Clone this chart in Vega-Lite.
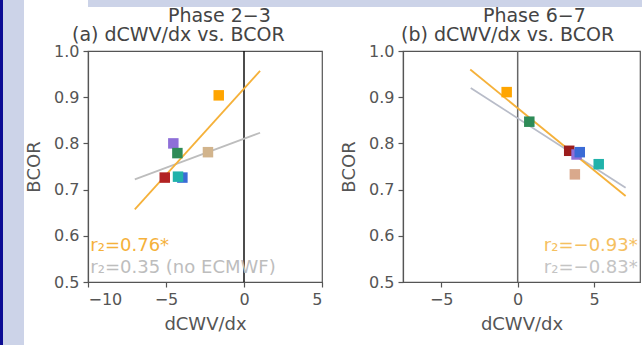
{
  "$schema": "https://vega.github.io/schema/vega-lite/v6.json",
  "background": "white",
  "padding": 0,
  "spacing": 0,
  "config": {
    "font": "DejaVu Sans",
    "view": {"stroke": "#555555", "strokeWidth": 1.2},
    "concat": {"spacing": 0},
    "axis": {
      "grid": false,
      "domainColor": "#555555",
      "tickColor": "#555555",
      "labelColor": "#555555",
      "titleColor": "#555555",
      "labelFont": "DejaVu Sans",
      "titleFont": "DejaVu Sans",
      "labelFontSize": 16,
      "titleFontSize": 18,
      "titleFontWeight": "normal",
      "tickSize": 5,
      "labelPadding": 4,
      "domainWidth": 1.2,
      "tickWidth": 1.2
    },
    "axisY": {"titlePadding": 10},
    "axisX": {"titlePadding": 8},
    "title": {
      "font": "DejaVu Sans",
      "fontSize": 19,
      "fontWeight": "normal",
      "color": "#444444",
      "anchor": "start",
      "align": "left",
      "offset": 0
    }
  },
  "datasets": {
    "pointsA": [
      {"model": "M2", "dCWVdx": -5.08, "BCOR": 0.726},
      {"model": "M3", "dCWVdx": -4.53, "BCOR": 0.800},
      {"model": "M4", "dCWVdx": -4.27, "BCOR": 0.779},
      {"model": "M5", "dCWVdx": -2.31, "BCOR": 0.781},
      {"model": "ECMWF", "dCWVdx": -1.62, "BCOR": 0.904},
      {"model": "M6", "dCWVdx": -3.95, "BCOR": 0.726},
      {"model": "M7", "dCWVdx": -4.23, "BCOR": 0.728}
    ],
    "pointsB": [
      {"model": "ECMWF", "dCWVdx": -0.72, "BCOR": 0.911},
      {"model": "M4", "dCWVdx": 0.76, "BCOR": 0.847},
      {"model": "M5", "dCWVdx": 3.74, "BCOR": 0.733},
      {"model": "M2", "dCWVdx": 3.37, "BCOR": 0.784},
      {"model": "M3", "dCWVdx": 3.85, "BCOR": 0.776},
      {"model": "M6", "dCWVdx": 4.06, "BCOR": 0.781},
      {"model": "M7", "dCWVdx": 5.30, "BCOR": 0.755}
    ],
    "fitsA": [
      {"fit": "no ECMWF", "dCWVdx": -7.0, "BCOR": 0.722},
      {"fit": "no ECMWF", "dCWVdx": 1.03, "BCOR": 0.823},
      {"fit": "all", "dCWVdx": -7.0, "BCOR": 0.657},
      {"fit": "all", "dCWVdx": 1.03, "BCOR": 0.957}
    ],
    "fitsB": [
      {"fit": "no ECMWF", "dCWVdx": -3.07, "BCOR": 0.920},
      {"fit": "no ECMWF", "dCWVdx": 7.06, "BCOR": 0.704},
      {"fit": "all", "dCWVdx": -3.1, "BCOR": 0.960},
      {"fit": "all", "dCWVdx": 7.06, "BCOR": 0.686}
    ],
    "notesA": [
      {"fit": "all", "dCWVdx": -9.85, "BCOR": 0.577, "label": "r₂=0.76*"},
      {"fit": "no ECMWF", "dCWVdx": -9.85, "BCOR": 0.530, "label": "r₂=0.35 (no ECMWF)"}
    ],
    "notesB": [
      {"fit": "all", "dCWVdx": 7.85, "BCOR": 0.577, "label": "r₂=−0.93*"},
      {"fit": "no ECMWF", "dCWVdx": 7.85, "BCOR": 0.530, "label": "r₂=−0.83*"}
    ],
    "zero": [{"dCWVdx": 0}],
    "empty": []
  },
  "hconcat": [
    {
      "width": 3, "height": 345,
      "data": {"name": "empty"},
      "mark": "point",
      "view": {"fill": "#0c0c94", "stroke": null}
    },
    {
      "width": 21, "height": 345,
      "data": {"name": "empty"},
      "mark": "point",
      "view": {"fill": "#ccd3e8", "stroke": null}
    },
    {
      "spacing": 0,
      "columns": 1,
      "align": "none",
      "concat": [
        {
          "width": 618, "height": 7,
          "data": {"name": "empty"},
          "mark": "point",
          "view": {"fill": "#ccd3e8", "stroke": null}
        },
        {
          "spacing": 15,
          "hconcat": [
            {
              "title": {"text": "Phase 2−3", "dx": 143, "dy": 1, "frame": "bounds", "offset": 0},
              "hconcat": [
                {
                  "width": 234, "height": 231,
                  "title": {"text": "(a) dCWV/dx vs. BCOR", "dx": -16, "dy": 2, "frame": "group", "offset": 0},
                  "resolve": {"scale": {"color": "independent"}},
                  "layer": [
                    {
                      "data": {"name": "zero"},
                      "mark": {"type": "rule", "color": "#111111", "strokeWidth": 1.5},
                      "encoding": {"x": {"field": "dCWVdx", "type": "quantitative"}}
                    },
                    {
                      "data": {"name": "fitsA"},
                      "mark": {"type": "line", "strokeWidth": 1.8},
                      "encoding": {
                        "x": {"field": "dCWVdx", "type": "quantitative", "scale": {"domain": [-10, 5], "nice": false}, "axis": {"values": [-10, -5, 0, 5], "title": "dCWV/dx"}},
                        "y": {"field": "BCOR", "type": "quantitative", "scale": {"domain": [0.5, 1.0], "nice": false, "zero": false}, "axis": {"values": [0.5, 0.6, 0.7, 0.8, 0.9, 1.0], "format": ".1f", "title": "BCOR"}},
                        "color": {"field": "fit", "type": "nominal", "scale": {"domain": ["all", "no ECMWF"], "range": ["#F5B13A", "#BDBDBD"]}, "legend": null},
                        "detail": {"field": "fit"}
                      }
                    },
                    {
                      "data": {"name": "pointsA"},
                      "mark": {"type": "square", "size": 110, "opacity": 1},
                      "encoding": {
                        "x": {"field": "dCWVdx", "type": "quantitative"},
                        "y": {"field": "BCOR", "type": "quantitative"},
                        "color": {"field": "model", "type": "nominal", "scale": {"domain": ["ECMWF", "M2", "M3", "M4", "M5", "M6", "M7"], "range": ["#FFA500", "#B22222", "#8E6FD8", "#2E8B57", "#D2B48C", "#3A6BD6", "#20B2AA"]}, "legend": null}
                      }
                    },
                    {
                      "data": {"name": "notesA"},
                      "mark": {"type": "text", "align": "left", "baseline": "middle", "fontSize": 18},
                      "encoding": {
                        "x": {"field": "dCWVdx", "type": "quantitative"},
                        "y": {"field": "BCOR", "type": "quantitative"},
                        "text": {"field": "label"},
                        "color": {"field": "fit", "type": "nominal", "scale": {"domain": ["all", "no ECMWF"], "range": ["#F5B13A", "#BDBDBD"]}, "legend": null}
                      }
                    }
                  ]
                }
              ]
            },
            {
              "title": {"text": "Phase 6−7", "dx": 143, "dy": 1, "frame": "bounds", "offset": 0},
              "hconcat": [
                {
                  "width": 237, "height": 231,
                  "title": {"text": "(b) dCWV/dx vs. BCOR", "dx": -2, "dy": 2, "frame": "group", "offset": 0},
                  "resolve": {"scale": {"color": "independent"}},
                  "layer": [
                    {
                      "data": {"name": "zero"},
                      "mark": {"type": "rule", "color": "#666666", "strokeWidth": 1.5},
                      "encoding": {"x": {"field": "dCWVdx", "type": "quantitative"}}
                    },
                    {
                      "data": {"name": "fitsB"},
                      "mark": {"type": "line", "strokeWidth": 1.8},
                      "encoding": {
                        "x": {"field": "dCWVdx", "type": "quantitative", "scale": {"domain": [-7.5, 8], "nice": false}, "axis": {"values": [-5, 0, 5], "title": "dCWV/dx"}},
                        "y": {"field": "BCOR", "type": "quantitative", "scale": {"domain": [0.5, 1.0], "nice": false, "zero": false}, "axis": {"values": [0.5, 0.6, 0.7, 0.8, 0.9, 1.0], "format": ".1f", "title": "BCOR"}},
                        "color": {"field": "fit", "type": "nominal", "scale": {"domain": ["all", "no ECMWF"], "range": ["#F5B13A", "#B8BCC8"]}, "legend": null},
                        "detail": {"field": "fit"}
                      }
                    },
                    {
                      "data": {"name": "pointsB"},
                      "mark": {"type": "square", "size": 110, "opacity": 1},
                      "encoding": {
                        "x": {"field": "dCWVdx", "type": "quantitative"},
                        "y": {"field": "BCOR", "type": "quantitative"},
                        "color": {"field": "model", "type": "nominal", "scale": {"domain": ["ECMWF", "M2", "M3", "M4", "M5", "M6", "M7"], "range": ["#FFA500", "#9B1C1C", "#8E6FD8", "#2E8B57", "#D9A98C", "#3A6BD6", "#20B2AA"]}, "legend": null}
                      }
                    },
                    {
                      "data": {"name": "notesB"},
                      "mark": {"type": "text", "align": "right", "baseline": "middle", "fontSize": 18},
                      "encoding": {
                        "x": {"field": "dCWVdx", "type": "quantitative"},
                        "y": {"field": "BCOR", "type": "quantitative"},
                        "text": {"field": "label"},
                        "color": {"field": "fit", "type": "nominal", "scale": {"domain": ["all", "no ECMWF"], "range": ["#F5C060", "#C4C4C4"]}, "legend": null}
                      }
                    }
                  ]
                }
              ]
            }
          ]
        }
      ]
    }
  ]
}
